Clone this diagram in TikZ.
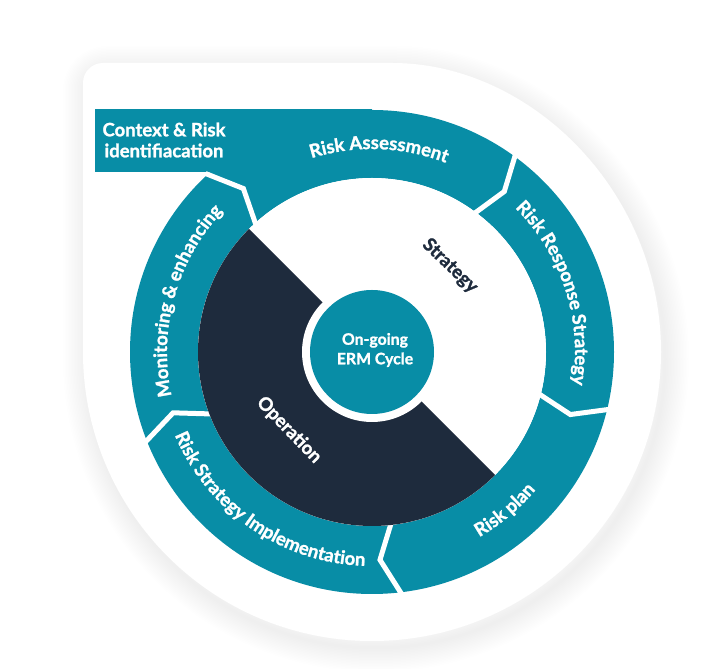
\documentclass[tikz,border=0pt]{standalone}
\usepackage{fontspec}
\setmainfont{Lato}[BoldFeatures={FakeBold=1.3}]
\usetikzlibrary{decorations.text}
\definecolor{tealc}{RGB}{8,141,166}
\definecolor{navyc}{RGB}{30,43,61}
\newcommand{\lblfont}{\fontsize{18.5}{21}\selectfont\bfseries}
\newcommand{\corefont}{\fontsize{15.8}{19.5}\selectfont\bfseries}
\tikzset{
  arclabel/.style={decorate, decoration={text along path, text align=center, text color=white, text={|\lblfont|#1}}},
  sepline/.style={white, line width=5pt, line join=miter},
  txt/.style={font=\lblfont, inner sep=0pt}
}
\begin{document}
\begin{tikzpicture}[x=1pt,y=1pt]
\useasboundingbox (0,0) rectangle (705,669);
\coordinate (C) at (372,317);
% soft shadow of the backing shape
\foreach \w in {3,6,...,48} {
  \draw[black, opacity=0.0055, line width=\w pt, shift={(4,-7)}]
    (83,317) [rounded corners=20pt] -- (83,606) -- (372,606) [sharp corners]
    arc[start angle=90, end angle=-180, radius=289] -- cycle;
}
% backing shape
\fill[white] (83,317) [rounded corners=20pt] -- (83,606) -- (372,606) [sharp corners]
    arc[start angle=90, end angle=-180, radius=289] -- cycle;
% teal ring and top-left tab
\fill[tealc, even odd rule] (C) circle[radius=242] (C) circle[radius=174];
\fill[tealc] (95,497) rectangle (372,560);
% chevron separators
\foreach \a/\t in {133/128.2, 54/50.5, -13.6/-17.5, -83/-87.8, 201.7/197} {
  \draw[sepline] ([shift={(C)}]\a:168) -- ([shift={(C)}]\t:208) -- ([shift={(C)}]\a:244);
}
% inner disk: strategy (white) and operation (navy)
\fill[white] (C) circle[radius=174];
\fill[navyc] ([shift={(C)}]135:174) arc[start angle=135, end angle=315, radius=174] -- cycle;
\fill[white] (C) circle[radius=70];
\node[circle, fill=tealc, minimum size=124pt, inner sep=0pt] (core) at (C) {};
\node[inner sep=0pt, font=\corefont, text=white, align=center] (coretext) at ([shift={(3,2)}]C) {On-going\\ERM Cycle};
\node[txt, text=navyc, rotate=-44] (strategy) at (450,403) {Strategy};
\node[txt, text=white, rotate=-46] (operation) at (289,239) {Operation};
\node[txt, text=white, align=center] (context) at (164,529) {Context \& Risk\\identifiacation};
% curved labels
\path[arclabel={Risk Assessment}] ([shift={(C)}]130:203) arc[start angle=130, end angle=46, radius=203];
\path[arclabel={Risk Response Strategy}] ([shift={(C)}]60:203) arc[start angle=60, end angle=-24, radius=203];
\path[arclabel={Risk plan}] ([shift={(C)}]-85:214) arc[start angle=-85, end angle=-15, radius=214];
\path[arclabel={Risk Strategy Implementation}] ([shift={(C)}]190:214) arc[start angle=190, end angle=281, radius=214];
\path[arclabel={Monitoring {\&} enhancing}] ([shift={(C)}]205:205) arc[start angle=205, end angle=124, radius=205];
\end{tikzpicture}
\end{document}
